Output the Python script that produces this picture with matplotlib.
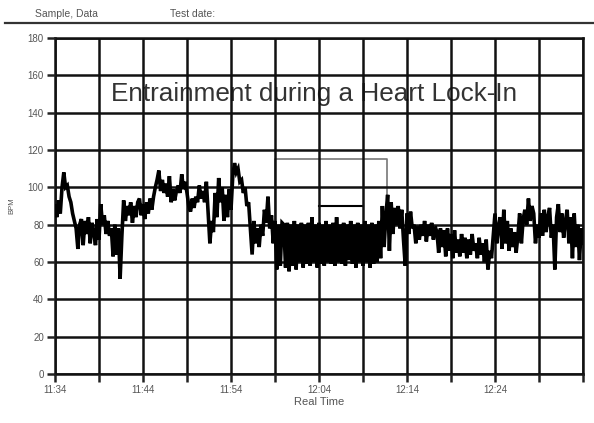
import numpy as np
import matplotlib
matplotlib.use("Agg")
import matplotlib.pyplot as plt

# ---- data: heart rate (BPM), one sample every 0.2 min starting 11:34 ----
start_label = "11:34"
sample_step_min = 0.2
bpm = [
    90, 84, 93, 86, 100,   # 11:34
    108, 100, 101, 95, 92,
    86, 82, 78, 67, 80,
    83, 69, 82, 75, 84,
    70, 81, 76, 69, 83,
    72, 91, 80, 85, 75,
    82, 74, 78, 63, 80,
    64, 78, 51, 74, 93,
    82, 90, 85, 92, 81,
    90, 84, 92, 94, 85,
    91, 83, 92, 86, 94,    # 11:44
    88, 95, 100, 104, 109,
    98, 104, 97, 102, 95,
    106, 92, 99, 93, 98,
    101, 97, 107, 99, 103,
    97, 90, 87, 94, 89,
    95, 92, 101, 94, 98,
    92, 103, 86, 70, 82,
    76, 97, 84, 105, 92,
    100, 82, 96, 84, 99,
    88, 106, 113, 108, 110,  # 11:54
    103, 104, 97, 100, 90,
    92, 78, 64, 82, 70,
    78, 68, 80, 74, 88,
    81, 95, 78, 85, 70,
    82, 56, 80, 58, 81,
    80, 57, 81, 55, 80,
    58, 82, 56, 80, 60,
    81, 57, 80, 59, 81,
    58, 84, 60, 80, 57,
    81, 59, 80, 58, 82,    # 12:04
    60, 80, 59, 81, 58,
    84, 60, 80, 59, 81,
    58, 80, 61, 82, 59,
    80, 57, 81, 60, 80,
    58, 82, 60, 80, 57,
    81, 59, 80, 60, 82,
    62, 90, 68, 85, 96,
    66, 92, 75, 89, 80,
    90, 78, 88, 72, 58,
    86, 75, 87, 78, 80,    # 12:14
    70, 79, 72, 80, 74,
    82, 71, 80, 74, 81,
    72, 79, 76, 65, 78,
    68, 77, 63, 78, 66,
    75, 62, 77, 65, 72,
    63, 75, 65, 73, 62,
    72, 64, 75, 66, 70,
    62, 73, 64, 70, 60,
    72, 56, 66, 62, 74,
    86, 70, 79, 84, 67,    # 12:24
    88, 70, 82, 66, 78,
    68, 76, 65, 74, 86,
    70, 83, 88, 80, 94,
    82, 90, 86, 70, 80,
    73, 86, 74, 88, 76,
    84, 89, 73, 80, 56,
    84, 91, 76, 86, 73,
    82, 88, 70, 84, 62,
    86, 68, 80, 61, 78,
    70,                    # 12:34
]

# annotation bracket (minutes after 11:34, BPM)
bracket_t = [25.0, 25.0, 37.7, 37.7]
bracket_bpm = [80, 115, 115, 85]
inner_t = [30.0, 35.0]
inner_bpm = [90, 90]

x_tick_minutes = [0, 10, 20, 30, 40, 50]
x_tick_labels = ["11:34", "11:44", "11:54", "12:04", "12:14", "12:24"]
y_ticks = [0, 20, 40, 60, 80, 100, 120, 140, 160, 180]

title = "Entrainment during a Heart Lock-In"

# ---- figure ----
plt.rcParams['font.family'] = ['Liberation Sans', 'DejaVu Sans']
fig = plt.figure(figsize=(5.94, 4.23), dpi=100)
ax = fig.add_axes([55/594, 1-374/423, (583-55)/594, (374-38)/423])

t = np.arange(len(bpm)) * sample_step_min
ax.plot(t, bpm, color="black", lw=2.6, zorder=3, solid_joinstyle="miter")
ax.plot(bracket_t, bracket_bpm, color="#777777", lw=1.2, zorder=2)
ax.plot(inner_t, inner_bpm, color="black", lw=1.5, zorder=2)

ax.set_xlim(0, 60)
ax.set_ylim(0, 180)
ax.set_xticks(np.arange(0, 61, 5))
lbl = []
for m in np.arange(0, 61, 5):
    lbl.append(x_tick_labels[x_tick_minutes.index(m)] if m in x_tick_minutes else "")
ax.set_xticklabels(lbl)
ax.set_yticks(y_ticks)
ax.tick_params(axis="both", direction="out", length=6, width=1.8, color="#222222",
               labelsize=7, labelcolor="#555555", pad=2)
ax.grid(True, color="#111111", lw=1.8)
ax.set_axisbelow(False)
for s in ax.spines.values():
    s.set_linewidth(1.8)
    s.set_color("#111111")

ax.set_xlabel("Real Time", fontsize=8, color="#555555", labelpad=1)
ax.set_ylabel("BPM", fontsize=5.5, color="#555555", labelpad=9)

ax.text((314-55)/528, (374-94)/336, title, transform=ax.transAxes, ha="center", va="center",
        fontsize=18.8, color="#333333", zorder=1)

fig.text(35/594, 1-14/423, "Sample, Data", fontsize=7.5, color="#555555", va="center")
fig.text(170/594, 1-14/423, "Test date:", fontsize=7.5, color="#555555", va="center")
fig.add_artist(plt.Line2D([5/594, 1.0], [1-23/423, 1-23/423], color="#333333", lw=1.6))

fig.savefig("out.png", dpi=100)
